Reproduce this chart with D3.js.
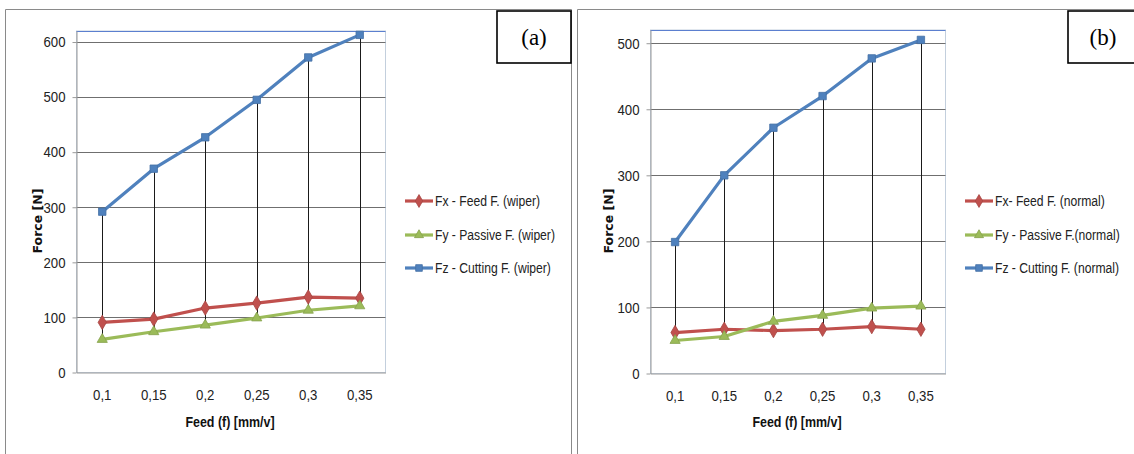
<!DOCTYPE html>
<html><head><meta charset="utf-8">
<script src="https://cdn.jsdelivr.net/npm/d3@7"></script>
<style>
body{margin:0;background:#fff;}
svg{display:block;}
</style></head>
<body>
<svg id="chart" width="1134" height="454"></svg>
<script>
const categories = ["0,1","0,15","0,2","0,25","0,3","0,35"];
const yTicksA = [0,100,200,300,400,500,600];
const yTicksB = [0,100,200,300,400,500];

const fxA = [91, 97, 117, 126, 137, 135];
const fyA = [60, 74, 86, 99, 113, 121];
const fzA = [292, 370, 427, 495, 572, 613];

const fxB = [62, 67, 65, 67, 71, 67];
const fyB = [50, 56, 79, 88, 99, 102];
const fzB = [199, 300, 372, 420, 477, 505];

const namesA = ["Fx - Feed F. (wiper)", "Fy - Passive F. (wiper)", "Fz - Cutting F. (wiper)"];
const namesB = ["Fx- Feed F. (normal)", "Fy - Passive F.(normal)", "Fz - Cutting F. (normal)"];

const colors = ["#c0504d", "#9bbb59", "#4f81bd"];
const markers = [d3.symbolDiamond, d3.symbolTriangle, d3.symbolSquare];
const markerSizes = [60, 45, 55];

const svg = d3.select("#chart");
const sans = "'Liberation Sans',Arial,sans-serif";

function panel(o){
  const g = svg.append("g");
  g.append("path").attr("d", `M${o.fx0},454 L${o.fx0},${o.fy0} L${o.fx1},${o.fy0}` + (o.fRight ? ` L${o.fx1},454` : ""))
    .attr("fill","none").attr("stroke","#8a8a8a").attr("stroke-width",1);
  const x = d3.scaleBand().domain(categories).range([o.left, o.right]);
  const y = d3.scaleLinear().domain([0, o.ymax]).range([o.bottom, o.top]);
  const cx = c => x(c) + x.bandwidth()/2;

  g.append("rect").attr("x", o.left).attr("y", o.top).attr("width", o.right-o.left).attr("height", o.bottom-o.top)
    .attr("fill","none").attr("stroke","#c3cfdd").attr("stroke-width",1);
  g.append("line").attr("x1",o.left).attr("x2",o.right).attr("y1",o.top+0.5).attr("y2",o.top+0.5)
    .attr("stroke","#5b7fcf").attr("stroke-width",1);

  g.append("g").selectAll("line").data(o.ticks.filter(t=>t>0)).join("line")
    .attr("x1", o.left).attr("x2", o.right)
    .attr("y1", d=>Math.round(y(d))+0.5).attr("y2", d=>Math.round(y(d))+0.5)
    .attr("stroke","#6f6f6f").attr("stroke-width",1);

  const ya = g.append("g").attr("transform",`translate(${o.left},0)`)
    .call(d3.axisLeft(y).tickValues(o.ticks).tickSize(4).tickSizeOuter(0).tickPadding(7));
  ya.select(".domain").attr("stroke","#9a9a9a");
  ya.selectAll(".tick line").attr("stroke","#9a9a9a");
  ya.selectAll("text").attr("font-family", sans).attr("font-size", 15).attr("fill","#222")
    .attr("x", -11/0.88).attr("transform","scale(0.88,1)");

  const xa = g.append("g").attr("transform",`translate(0,${o.bottom})`)
    .call(d3.axisBottom(x).tickSize(0).tickPadding(17));
  xa.select(".domain").attr("stroke","#9a9a9a");
  xa.selectAll("text").attr("font-family", sans).attr("font-size", 15).attr("fill","#222")
    .attr("transform","scale(0.88,1)").attr("x", function(){ return 0; });

  g.append("g").selectAll("line").data(categories).join("line")
    .attr("x1", c=>Math.round(cx(c))+0.5).attr("x2", c=>Math.round(cx(c))+0.5)
    .attr("y1", (c,i)=>y(Math.max(o.series[0][i],o.series[1][i],o.series[2][i])))
    .attr("y2", (c,i)=>y(Math.min(o.series[0][i],o.series[1][i],o.series[2][i])))
    .attr("stroke","#1a1a1a").attr("stroke-width",1);

  const line = d3.line().x((d,i)=>cx(categories[i])).y(d=>y(d));
  o.series.forEach((s,k)=>{
    g.append("path").datum(s).attr("d", line).attr("fill","none")
      .attr("stroke", colors[k]).attr("stroke-width", 3.2).attr("stroke-linejoin","round");
    g.append("g").selectAll("path").data(s).join("path")
      .attr("transform",(d,i)=>`translate(${cx(categories[i])},${y(d)})`)
      .attr("d", d3.symbol().type(markers[k]).size(markerSizes[k]))
      .attr("fill", colors[k]).attr("stroke", d3.color(colors[k]).darker(0.4)).attr("stroke-width",0.8);
  });

  g.append("text").attr("transform",`translate(${o.ytx},221) rotate(-90)`)
    .attr("text-anchor","middle").attr("font-family","'DejaVu Sans',Verdana,sans-serif")
    .attr("font-weight","bold").attr("font-size",12.5).attr("fill","#111").text("Force [N]");
  g.append("text").attr("transform",`translate(${(o.left+o.right)/2 - 1},427) scale(0.83,1)`)
    .attr("text-anchor","middle").attr("font-family", sans)
    .attr("font-weight","bold").attr("font-size",15).attr("fill","#111").text("Feed (f) [mm/v]");

  o.names.forEach((n,k)=>{
    const ly = o.legY[k];
    g.append("line").attr("x1", o.legX).attr("x2", o.legX+28).attr("y1", ly).attr("y2", ly)
      .attr("stroke", colors[k]).attr("stroke-width", 3.2);
    g.append("path").attr("transform",`translate(${o.legX+14},${ly})`)
      .attr("d", d3.symbol().type(markers[k]).size(markerSizes[k]*0.8))
      .attr("fill", colors[k]).attr("stroke", d3.color(colors[k]).darker(0.4)).attr("stroke-width",0.8);
    g.append("text").attr("transform",`translate(${o.legX+30},${ly+5}) scale(0.81,1)`)
      .attr("font-family", sans).attr("font-size", 15).attr("fill","#222").text(n);
  });

  g.append("rect").attr("x", o.bx).attr("y", o.by).attr("width", o.bw).attr("height", o.bh)
    .attr("fill","#fff").attr("stroke","#000").attr("stroke-width",1.6);
  g.append("text").attr("x", o.bx + o.bw/2).attr("y", o.by + 34)
    .attr("text-anchor","middle").attr("font-family","'Liberation Serif','Times New Roman',serif")
    .attr("font-size",23).attr("fill","#000").text(o.label);
}

panel({fx0:5.5, fy0:9.5, fx1:571.5, fRight:true,
  left:76.5, right:385.5, top:31, bottom:372.5, ymax:620, ticks:yTicksA,
  series:[fxA, fyA, fzA], names:namesA, legX:405, legY:[201,235,268],
  ytx:42, bx:497, by:11, bw:74, bh:52, label:"(a)"});

panel({fx0:577.5, fy0:9.5, fx1:1140, fRight:false,
  left:650.5, right:945.5, top:30, bottom:373.5, ymax:520, ticks:yTicksB,
  series:[fxB, fyB, fzB], names:namesB, legX:965, legY:[201,235,268],
  ytx:613, bx:1068, by:11, bw:70, bh:52, label:"(b)"});
</script>
</body></html>
